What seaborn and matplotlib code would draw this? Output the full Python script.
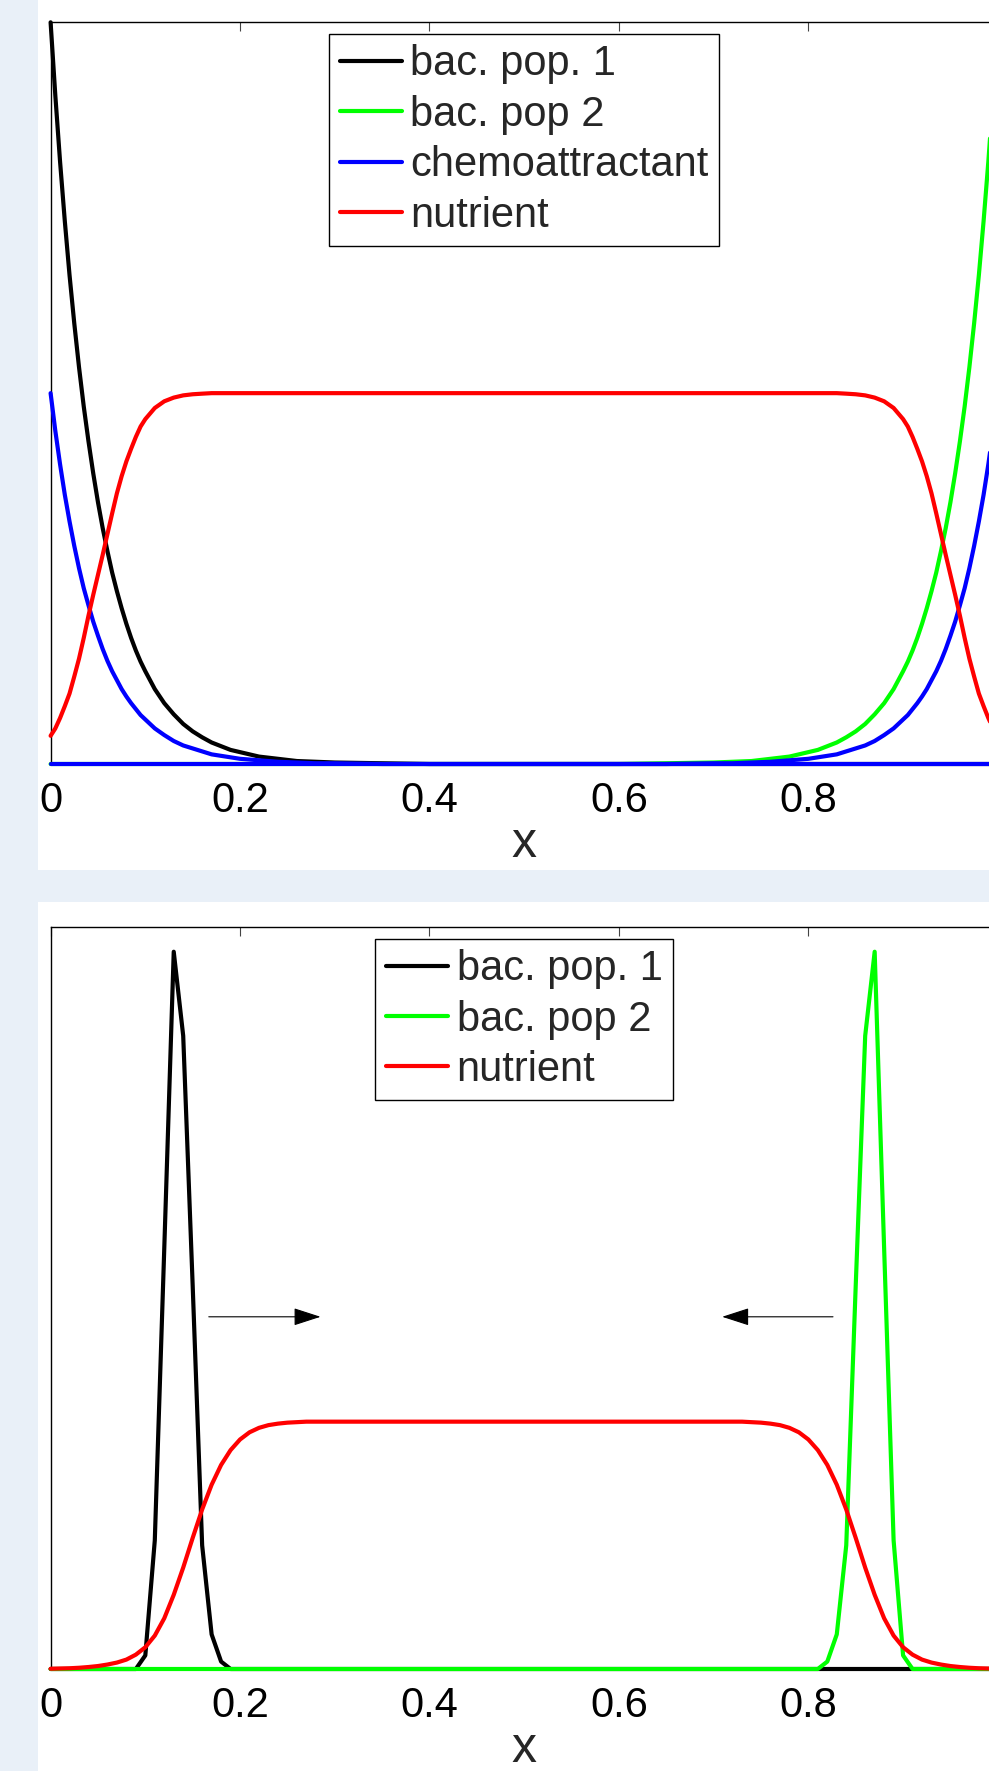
import matplotlib
matplotlib.use("Agg")
import matplotlib.pyplot as plt
from matplotlib.patches import Rectangle
import seaborn as sns

# ---------------- top panel: steady profiles ----------------
x_top = [0.0, 0.005, 0.01, 0.015, 0.02, 0.025, 0.03, 0.035, 0.04, 0.045,
         0.05, 0.055, 0.06, 0.065, 0.07, 0.075, 0.08, 0.085, 0.09, 0.095,
         0.10, 0.11, 0.12, 0.13, 0.14, 0.15, 0.16, 0.17, 0.18, 0.19,
         0.20, 0.22, 0.24, 0.26, 0.28, 0.30, 0.35, 0.40, 0.45, 0.50,
         0.55, 0.60, 0.65, 0.70, 0.72, 0.74, 0.76, 0.78, 0.80, 0.81,
         0.82, 0.83, 0.84, 0.85, 0.86, 0.87, 0.88, 0.89, 0.90, 0.905,
         0.91, 0.915, 0.92, 0.925, 0.93, 0.935, 0.94, 0.945, 0.95, 0.955,
         0.96, 0.965, 0.97, 0.975, 0.98, 0.985, 0.99, 0.995, 1.0]

bac1_top = [1.000, 0.901, 0.812, 0.732, 0.659, 0.594, 0.535, 0.482, 0.435, 0.392,
            0.353, 0.318, 0.287, 0.258, 0.233, 0.210, 0.189, 0.170, 0.153, 0.138,
            0.125, 0.101, 0.082, 0.067, 0.054, 0.044, 0.036, 0.029, 0.024, 0.019,
            0.016, 0.010, 0.007, 0.004, 0.003, 0.002, 0.001, 0.0, 0.0, 0.0,
            0.0, 0.0, 0.0, 0.0, 0.0, 0.0, 0.0, 0.0, 0.0, 0.0,
            0.0, 0.0, 0.0, 0.0, 0.0, 0.0, 0.0, 0.0, 0.0, 0.0,
            0.0, 0.0, 0.0, 0.0, 0.0, 0.0, 0.0, 0.0, 0.0, 0.0,
            0.0, 0.0, 0.0, 0.0, 0.0, 0.0, 0.0, 0.0, 0.0]

bac2_top = [0.0, 0.0, 0.0, 0.0, 0.0, 0.0, 0.0, 0.0, 0.0, 0.0,
            0.0, 0.0, 0.0, 0.0, 0.0, 0.0, 0.0, 0.0, 0.0, 0.0,
            0.0, 0.0, 0.0, 0.0, 0.0, 0.0, 0.0, 0.0, 0.0, 0.0,
            0.0, 0.0, 0.0, 0.0, 0.0, 0.0, 0.0, 0.0, 0.0, 0.0,
            0.0, 0.0, 0.001, 0.002, 0.003, 0.004, 0.007, 0.010, 0.016, 0.019,
            0.024, 0.029, 0.036, 0.044, 0.054, 0.067, 0.082, 0.101, 0.125, 0.138,
            0.153, 0.170, 0.189, 0.210, 0.233, 0.258, 0.287, 0.318, 0.353, 0.392,
            0.435, 0.482, 0.535, 0.594, 0.659, 0.732, 0.812, 0.901, 1.000]

chemo_top = [0.500, 0.449, 0.404, 0.363, 0.327, 0.294, 0.264, 0.237, 0.214, 0.192,
             0.173, 0.155, 0.139, 0.125, 0.113, 0.101, 0.091, 0.082, 0.074, 0.066,
             0.060, 0.048, 0.039, 0.031, 0.025, 0.021, 0.017, 0.013, 0.011, 0.009,
             0.007, 0.005, 0.003, 0.002, 0.001, 0.001, 0.0, 0.0, 0.0, 0.0,
             0.0, 0.0, 0.0, 0.001, 0.001, 0.002, 0.003, 0.005, 0.007, 0.009,
             0.011, 0.013, 0.017, 0.021, 0.025, 0.031, 0.039, 0.048, 0.060, 0.066,
             0.074, 0.082, 0.091, 0.101, 0.113, 0.125, 0.139, 0.155, 0.173, 0.192,
             0.214, 0.237, 0.264, 0.294, 0.327, 0.363, 0.404, 0.449, 0.500]

nutrient_top = [0.038, 0.048, 0.062, 0.078, 0.095, 0.118, 0.142, 0.170, 0.200, 0.228,
                0.255, 0.282, 0.310, 0.338, 0.365, 0.388, 0.408, 0.425, 0.441, 0.455,
                0.465, 0.480, 0.489, 0.494, 0.497, 0.4985, 0.4993, 0.5, 0.5, 0.5,
                0.5, 0.5, 0.5, 0.5, 0.5, 0.5, 0.5, 0.5, 0.5, 0.5,
                0.5, 0.5, 0.5, 0.5, 0.5, 0.5, 0.5, 0.5, 0.5, 0.5,
                0.5, 0.5, 0.4993, 0.4985, 0.497, 0.494, 0.489, 0.480, 0.465, 0.455,
                0.441, 0.425, 0.408, 0.388, 0.365, 0.338, 0.310, 0.282, 0.255, 0.228,
                0.200, 0.170, 0.142, 0.118, 0.095, 0.078, 0.062, 0.048, 0.038]

# flat blue trace lying on the x axis
x_base = [0.0, 1.0]
chemo_base = [0.0, 0.0]

# ---------------- bottom panel: travelling fronts ----------------
x_bac1_bot = [0.0, 0.09, 0.10, 0.11, 0.12, 0.13, 0.14, 0.15, 0.16, 0.17, 0.18, 0.19, 1.0]
bac1_bot = [0.0, 0.0, 0.055, 0.52, 1.70, 2.90, 2.56, 1.55, 0.50, 0.14, 0.03, 0.0, 0.0]

x_bac2_bot = [0.0, 0.81, 0.82, 0.83, 0.84, 0.85, 0.86, 0.87, 0.88, 0.89, 0.90, 0.91, 1.0]
bac2_bot = [0.0, 0.0, 0.03, 0.14, 0.50, 1.55, 2.56, 2.90, 1.70, 0.52, 0.055, 0.0, 0.0]

x_nut_bot = [0.00, 0.01, 0.02, 0.03, 0.04, 0.05, 0.06, 0.07, 0.08, 0.09,
             0.10, 0.11, 0.12, 0.13, 0.14, 0.15, 0.16, 0.17, 0.18, 0.19,
             0.20, 0.21, 0.22, 0.23, 0.24, 0.25, 0.26, 0.27,
             0.73, 0.74, 0.75, 0.76, 0.77, 0.78, 0.79, 0.80, 0.81, 0.82,
             0.83, 0.84, 0.85, 0.86, 0.87, 0.88, 0.89, 0.90, 0.91, 0.92,
             0.93, 0.94, 0.95, 0.96, 0.97, 0.98, 0.99, 1.00]
nutrient_bot = [0.001, 0.002, 0.003, 0.005, 0.008, 0.012, 0.018, 0.026, 0.038, 0.058,
                0.088, 0.135, 0.205, 0.300, 0.410, 0.530, 0.645, 0.745, 0.825, 0.885,
                0.928, 0.957, 0.975, 0.986, 0.992, 0.996, 0.998, 1.0,
                1.0, 0.998, 0.996, 0.992, 0.986, 0.975, 0.957, 0.928, 0.885, 0.825,
                0.745, 0.645, 0.530, 0.410, 0.300, 0.205, 0.135, 0.088, 0.058, 0.038,
                0.026, 0.018, 0.012, 0.008, 0.005, 0.003, 0.002, 0.001]

# direction-of-motion arrows (tail x, head x, height)
arrow_right = (0.167, 0.285)
arrow_left = (0.826, 0.709)
arrow_y = 1.424

x_ticks = [0, 0.2, 0.4, 0.6, 0.8, 1.0]
# the "1" label falls past the cropped right edge in the original
x_tick_labels = ["0", "0.2", "0.4", "0.6", "0.8", ""]
y_ticks_top = [0, 0.2, 0.4, 0.6, 0.8, 1.0]
y_ticks_bot = [0, 1, 2, 3]

sns.set_theme(style="white")
plt.rcParams["font.family"] = ["Liberation Sans", "DejaVu Sans"]

W, H = 989, 1771
fig = plt.figure(figsize=(W / 100, H / 100), dpi=100)
fig.patch.set_facecolor("#e9f0f8")

# white panels behind each axes
fig.add_artist(Rectangle((38 / W, (H - 870) / H), 1, 870 / H, transform=fig.transFigure,
                         facecolor="white", edgecolor="none", zorder=-1))
fig.add_artist(Rectangle((38 / W, 0), 1, (H - 902) / H, transform=fig.transFigure,
                         facecolor="white", edgecolor="none", zorder=-1))

ax1 = fig.add_axes([50.6 / W, (H - 764) / H, 947.2 / W, 741.7 / H])
ax2 = fig.add_axes([50.6 / W, (H - 1669) / H, 947.2 / W, 742 / H])

LW = 3.0


def trace(ax, x, y, color, label=None):
    sns.lineplot(x=x, y=y, ax=ax, color=color, label=label,
                 estimator=None, sort=False, legend=False)
    line = ax.get_lines()[-1]
    line.set_linewidth(LW)
    line.set_clip_on(False)
    line.set_zorder(3)
    line.set_solid_joinstyle("round")


trace(ax1, x_top, bac1_top, "#000000", "bac. pop. 1")
trace(ax1, x_top, bac2_top, "#00ff00", "bac. pop 2")
trace(ax1, x_top, chemo_top, "#0000ff", "chemoattractant")
trace(ax1, x_base, chemo_base, "#0000ff")
trace(ax1, x_top, nutrient_top, "#ff0000", "nutrient")

trace(ax2, x_bac1_bot, bac1_bot, "#000000", "bac. pop. 1")
trace(ax2, x_bac2_bot, bac2_bot, "#00ff00", "bac. pop 2")
trace(ax2, x_nut_bot, nutrient_bot, "#ff0000", "nutrient")

for tail, head in [arrow_right, arrow_left]:
    ax2.annotate("", xy=(head, arrow_y), xytext=(tail, arrow_y),
                 arrowprops=dict(arrowstyle="-|>,head_length=1.7,head_width=0.55",
                                 color="black", lw=0.8, shrinkA=0, shrinkB=0,
                                 mutation_scale=10))

for ax, yt, ymax in [(ax1, y_ticks_top, 1.0), (ax2, y_ticks_bot, 3.0)]:
    ax.set_xlim(0, 1)
    ax.set_ylim(0, ymax)
    ax.set_xticks(x_ticks)
    ax.set_xticklabels(x_tick_labels)
    ax.set_yticks(yt)
    ax.tick_params(axis="both", direction="in", length=6.5, width=0.8, color="#444444",
                   top=True, right=True, labelleft=False, labelsize=30, pad=12.5,
                   labelcolor="black")
    ax.set_xlabel("x", fontsize=36, labelpad=0)
    ax.set_ylabel("")
    for sp in ax.spines.values():
        sp.set_color("black")
        sp.set_linewidth(1.0)
        sp.set_visible(True)
    ax.set_facecolor("white")
    handles = [h for h in ax.get_lines() if not h.get_label().startswith("_")]
    leg = ax.legend(handles=handles, labels=[h.get_label() for h in handles],
                    loc="upper center", fontsize=30, frameon=True, fancybox=False,
                    framealpha=1, edgecolor="black", handlelength=1.5, handletextpad=0.2,
                    borderpad=0.25, labelspacing=0.25, borderaxespad=0.28)
    leg.get_frame().set_linewidth(1.0)
    for lh in leg.get_lines():
        lh.set_linewidth(LW)

fig.savefig("out.png", dpi=100)
